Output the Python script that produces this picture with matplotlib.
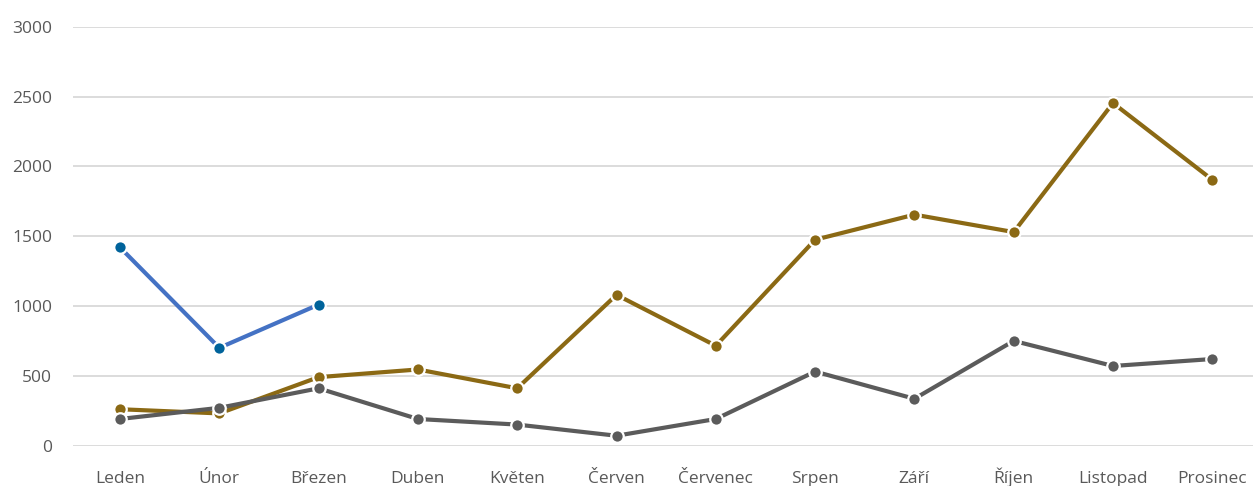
import matplotlib
matplotlib.use("Agg")
import matplotlib.pyplot as plt

months = ["Leden", "Únor", "Březen", "Duben", "Květen", "Červen", "Červenec",
          "Srpen", "Září", "Říjen", "Listopad", "Prosinec"]
series_blue = [1420, 700, 1010]
series_brown = [260, 230, 490, 545, 410, 1080, 715, 1475, 1655, 1530, 2455, 1905]
series_gray = [190, 270, 410, 190, 150, 70, 190, 530, 335, 750, 570, 620]
yticks = [0, 500, 1000, 1500, 2000, 2500, 3000]

plt.rcParams['font.family'] = ['Open Sans', 'DejaVu Sans']

W, H = 1253, 486
fig = plt.figure(figsize=(W / 100, H / 100), dpi=100)
left, right = 73, 1253
bottom, top = 486 - 445.5, 486 - 27
ax = fig.add_axes([left / W, bottom / H, (right - left) / W, (top - bottom) / H])

x = list(range(len(months)))
lw = 3.0
ms = 9.0
ax.plot(x, series_brown, color="#8B6914", lw=lw, marker="o", ms=ms,
        markerfacecolor="#8B6914", markeredgecolor="white", markeredgewidth=1.6, zorder=3)
ax.plot(x, series_gray, color="#5B5B5B", lw=lw, marker="o", ms=ms,
        markerfacecolor="#5B5B5B", markeredgecolor="white", markeredgewidth=1.6, zorder=4)
ax.plot(x[:len(series_blue)], series_blue, color="#4472C4", lw=lw, marker="o", ms=ms,
        markerfacecolor="#00639B", markeredgecolor="white", markeredgewidth=1.6, zorder=5)

px_per_cat = (1212.3 - 120) / 11
ax.set_xlim(-(120 - left) / px_per_cat, 11 + (right - 1212.3) / px_per_cat)
ax.set_ylim(0, 3000)
ax.set_yticks(yticks)
ax.set_xticks(x)
ax.set_xticklabels(months)
ax.grid(axis="y", color="#D9D9D9", lw=1.3)
ax.set_axisbelow(True)
for s in ax.spines.values():
    s.set_visible(False)
ax.tick_params(axis="both", length=0, colors="#595959", labelsize=12.5)
ax.tick_params(axis="x", pad=27)
ax.tick_params(axis="y", pad=15)
for lab in ax.get_xticklabels():
    lab.set_verticalalignment("baseline")

fig.savefig("out.png", dpi=100)
